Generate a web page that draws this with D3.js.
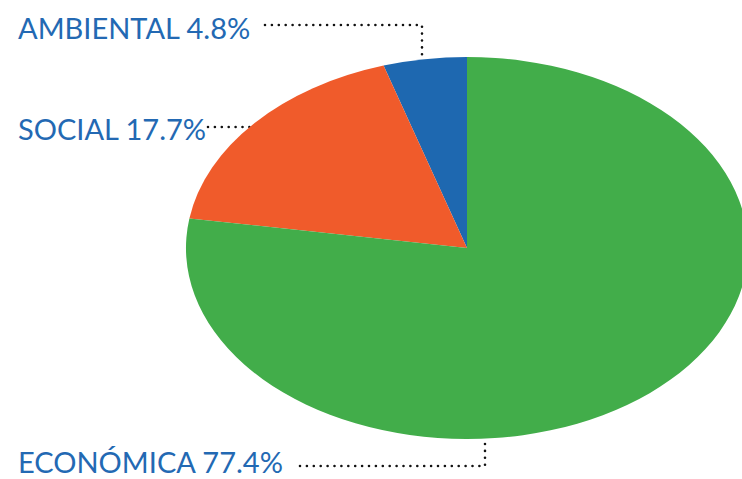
<!DOCTYPE html>
<html>
<head>
<meta charset="utf-8">
<script src="https://cdn.jsdelivr.net/npm/d3@7"></script>
<style>
    html, body { margin: 0; padding: 0; background: #fff; }
    svg { display: block; }
    .label { font-family: 'Lato', 'Open Sans', sans-serif; font-size: 29px; font-weight: 400; fill: #2369b3; }
</style>
</head>
<body>
<div id="chart"></div>
<script>
const categories = ['AMBIENTAL', 'SOCIAL', 'ECONÓMICA'];
const shares = [4.8, 17.7, 77.4];
const colors = ['#1e68b0', '#f05b2b', '#42ad4a'];

const WIDTH = 742;
const HEIGHT = 479;

// ellipse-shaped pie: draw on a unit radius and stretch
const center = { x: 467, y: 248 };
const rx = 281;
const ry = 191;

// where each label sits and how its dotted leader runs
const labelLayout = [
    { x: 18, y: 39, leader: [[265, 25], [422, 25], [422, 55]] },
    { x: 18, y: 140, leader: [[208, 127], [255, 127]] },
    { x: 18, y: 473, leader: [[300, 466], [485, 466], [485, 441]] }
];

const data = categories.map((c, i) => ({ key: c, value: shares[i], color: colors[i] }));

const svg = d3.select('#chart').append('svg').attr('width', WIDTH).attr('height', HEIGHT);

// leaders go underneath the pie
const leaders = svg.append('g');
leaders.selectAll('path')
    .data(labelLayout)
    .enter()
    .append('path')
    .attr('d', (d) => d3.line()(d.leader))
    .attr('fill', 'none')
    .attr('stroke', '#111')
    .attr('stroke-width', 2.6)
    .attr('stroke-linecap', 'round')
    .attr('stroke-dasharray', '0 6.9');

const pie = d3.pie().sort(null).value((d) => d.value).startAngle(0).endAngle(-2 * Math.PI);
const arc = d3.arc().innerRadius(0).outerRadius(1);

const chart = svg.append('g')
    .attr('transform', `translate(${center.x}, ${center.y}) scale(${rx}, ${ry})`);

chart.selectAll('path')
    .data(pie(data))
    .enter()
    .append('path')
    .attr('d', arc)
    .attr('fill', (d) => d.data.color);

svg.selectAll('text.label')
    .data(data)
    .enter()
    .append('text')
    .attr('class', 'label')
    .attr('x', (d, i) => labelLayout[i].x)
    .attr('y', (d, i) => labelLayout[i].y)
    .text((d) => `${d.key} ${d.value}%`);
</script>
</body>
</html>
